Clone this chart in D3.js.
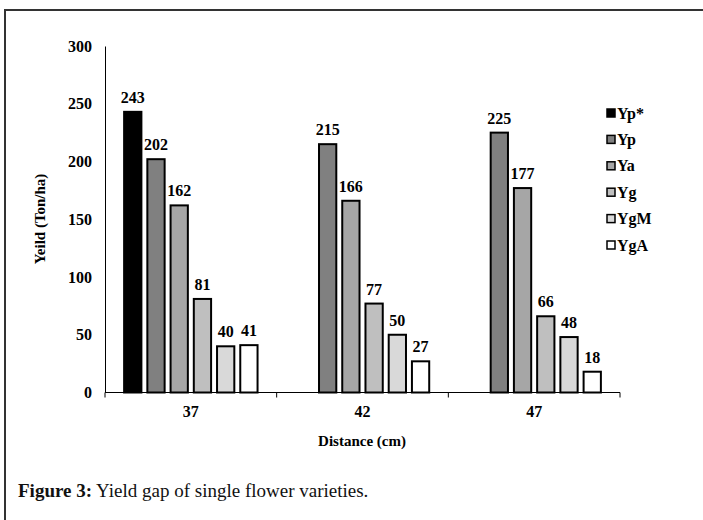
<!DOCTYPE html>
<html><head><meta charset="utf-8">
<script src="https://cdn.jsdelivr.net/npm/d3@7"></script>
<style>body{margin:0;background:#fff}svg{display:block}</style>
</head><body>
<svg id="c" width="703" height="520"></svg>
<script>
const categories = ["37", "42", "47"];
const seriesNames = ["Yp*", "Yp", "Ya", "Yg", "YgM", "YgA"];
const seriesColors = ["#000000", "#808080", "#a6a6a6", "#bfbfbf", "#d9d9d9", "#ffffff"];
const valuesYpStar = [243, null, null];
const valuesYp = [202, 215, 225];
const valuesYa = [162, 166, 177];
const valuesYg = [81, 77, 66];
const valuesYgM = [40, 50, 48];
const valuesYgA = [41, 27, 18];
const yTicks = [0, 50, 100, 150, 200, 250, 300];
const seriesValues = [valuesYpStar, valuesYp, valuesYa, valuesYg, valuesYgM, valuesYgA];

const svg = d3.select("#c");
const font = "'Liberation Serif', 'Times New Roman', serif";

// frame
svg.append("line").attr("x1", 5).attr("x2", 703).attr("y1", 10).attr("y2", 10).attr("stroke", "#333").attr("stroke-width", 2);
svg.append("line").attr("x1", 5).attr("x2", 5).attr("y1", 9).attr("y2", 520).attr("stroke", "#333").attr("stroke-width", 2);

const x0 = d3.scaleBand().domain(categories).range([105, 620]);
const x1 = d3.scaleBand().domain(seriesNames).range([0, x0.bandwidth()]).paddingOuter(0.78).paddingInner(0.17);
const y = d3.scaleLinear().domain([0, 300]).range([392.5, 46]);

// y axis
const yAxis = svg.append("g").attr("transform", "translate(105,0)")
  .call(d3.axisLeft(y).tickValues(yTicks).tickSize(0).tickPadding(13));
yAxis.select(".domain").attr("stroke", "#000").attr("stroke-width", 1);
yAxis.selectAll("text").attr("font-family", font).attr("font-weight", "bold").attr("font-size", 16).attr("fill", "#000");

// bars
categories.forEach((cat, ci) => {
  const g = svg.append("g").attr("transform", `translate(${x0(cat)},0)`);
  seriesNames.forEach((s, si) => {
    const v = seriesValues[si][ci];
    if (v == null) return;
    g.append("rect")
      .attr("x", x1(s) + 1).attr("width", x1.bandwidth() - 2)
      .attr("y", y(v)).attr("height", y(0) - y(v))
      .attr("fill", seriesColors[si]).attr("stroke", "#000").attr("stroke-width", 2);
    g.append("text")
      .attr("x", x1(s) + x1.bandwidth() / 2).attr("y", y(v) - 9)
      .attr("text-anchor", "middle")
      .attr("font-family", font).attr("font-weight", "bold").attr("font-size", 16)
      .text(v);
  });
});

// x axis
const xAxis = svg.append("g").attr("transform", `translate(0,${y(0)})`)
  .call(d3.axisBottom(x0).tickSize(0).tickPadding(13));
xAxis.select(".domain").attr("stroke", "#000").attr("stroke-width", 1).attr("d", "M105,0H620");
xAxis.selectAll("text").attr("font-family", font).attr("font-weight", "bold").attr("font-size", 16).attr("fill", "#000");
const bounds = [105].concat(categories.map(c => x0(c) + x0.bandwidth()));
svg.append("g").selectAll("line").data(bounds).join("line")
  .attr("x1", d => d).attr("x2", d => d).attr("y1", y(0)).attr("y2", y(0) + 5)
  .attr("stroke", "#000").attr("stroke-width", 1);

// axis titles
svg.append("text").attr("transform", "translate(45,219) rotate(-90)")
  .attr("text-anchor", "middle").attr("font-family", font).attr("font-weight", "bold").attr("font-size", 15)
  .text("Yeild (Ton/ha)");
svg.append("text").attr("x", 362).attr("y", 446)
  .attr("text-anchor", "middle").attr("font-family", font).attr("font-weight", "bold").attr("font-size", 15)
  .text("Distance (cm)");

// legend
const leg = svg.append("g");
seriesNames.forEach((s, i) => {
  const cy = 113 + i * 26.4;
  leg.append("rect").attr("x", 607).attr("y", cy - 4).attr("width", 8).attr("height", 8)
    .attr("fill", seriesColors[i]).attr("stroke", "#000").attr("stroke-width", 1.5);
  leg.append("text").attr("x", 617).attr("y", cy + 5.5)
    .attr("font-family", font).attr("font-weight", "bold").attr("font-size", 16)
    .text(s);
});

// caption
const cap = svg.append("text").attr("x", 18).attr("y", 497).attr("font-family", font).attr("font-size", 19).attr("fill", "#111");
cap.append("tspan").attr("font-weight", "bold").text("Figure 3:");
cap.append("tspan").text(" Yield gap of single flower varieties.");
</script>
</body></html>
